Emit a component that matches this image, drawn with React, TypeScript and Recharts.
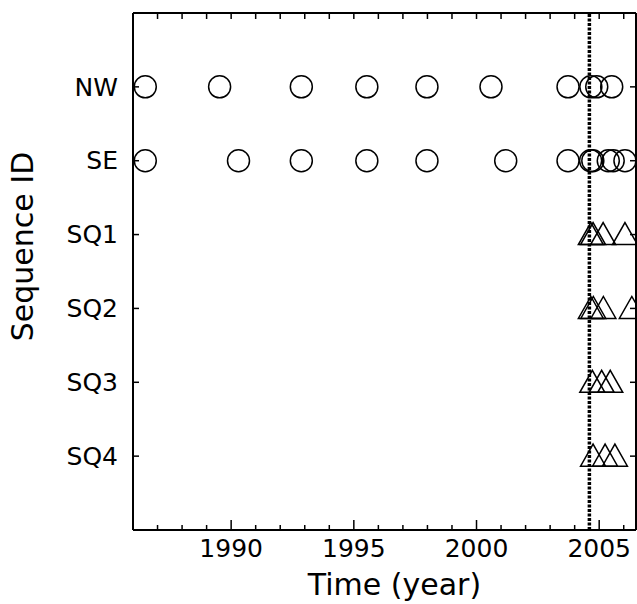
import { ReferenceLine, Scatter, ScatterChart, XAxis, YAxis, Label } from "recharts";

const sequenceIds = ["SQ4", "SQ3", "SQ2", "SQ1", "SE", "NW"];
const yearTicks = [
  1987, 1988, 1989, 1990, 1991, 1992, 1993, 1994, 1995, 1996, 1997, 1998, 1999,
  2000, 2001, 2002, 2003, 2004, 2005, 2006,
];
const labelledYears = [1990, 1995, 2000, 2005];
const cutoffYear = 2004.6;

const nwYears = [1986.5, 1989.53, 1992.86, 1995.53, 1997.98, 2000.59, 2003.73, 2004.66, 2004.9, 2005.51];
const seYears = [1986.5, 1990.3, 1992.86, 1995.53, 1997.98, 2001.19, 2003.73, 2004.65, 2004.74, 2005.37, 2005.57, 2006.05];
const sq1Years = [2004.66, 2004.75, 2005.16, 2006.05];
const sq2Years = [2004.66, 2004.76, 2005.17, 2006.33];
const sq3Years = [2004.72, 2005.1, 2005.45];
const sq4Years = [2004.75, 2005.24, 2005.64];

const FONT = "'DejaVu Sans', Verdana, sans-serif";

const toPoints = (years: number[], id: string) =>
  years.map((x) => ({ x, y: sequenceIds.indexOf(id) + 1 }));

const Circle = (props: any) => (
  <circle cx={props.cx} cy={props.cy} r={11} fill="none" stroke="#000" strokeWidth={1.5} />
);

const Triangle = (props: any) => {
  const { cx, cy } = props;
  const pts = `${cx - 12.5},${cy + 10} ${cx + 12.5},${cy + 10} ${cx},${cy - 12}`;
  return <polygon points={pts} fill="none" stroke="#000" strokeWidth={1.5} />;
};

// only here so the top and right frame axes get drawn
const Nothing = () => <g />;

const BottomTick = (props: any) => {
  const { x, y, payload } = props;
  const major = labelledYears.includes(payload.value);
  return (
    <g>
      <line x1={x} x2={x} y1={y} y2={y - (major ? 10 : 5)} stroke="#000" strokeWidth={1.5} />
      {major && (
        <text x={x} y={y + 27} textAnchor="middle" fontSize={25} fontFamily={FONT} fill="#000">
          {payload.value}
        </text>
      )}
    </g>
  );
};

const TopTick = (props: any) => {
  const { x, y } = props;
  return <line x1={x} x2={x} y1={y} y2={y + 6} stroke="#000" strokeWidth={1.5} />;
};

const LeftTick = (props: any) => {
  const { x, y, payload } = props;
  return (
    <g>
      <line x1={x} x2={x + 6} y1={y} y2={y} stroke="#000" strokeWidth={1.5} />
      <text x={x - 15} y={y} dy="0.35em" textAnchor="end" fontSize={25} fontFamily={FONT} fill="#000">
        {sequenceIds[payload.value - 1]}
      </text>
    </g>
  );
};

const RightTick = (props: any) => {
  const { x, y } = props;
  return <line x1={x} x2={x - 6} y1={y} y2={y} stroke="#000" strokeWidth={1.5} />;
};

const YTitle = (props: any) => {
  const { viewBox } = props;
  const cx = viewBox.x + 22;
  const cy = viewBox.y + viewBox.height / 2 - 25;
  return (
    <text
      x={cx}
      y={cy}
      transform={`rotate(-90 ${cx} ${cy})`}
      textAnchor="middle"
      dy="0.35em"
      fontSize={30}
      fontFamily={FONT}
      fill="#000"
    >
      Sequence ID
    </text>
  );
};

export default function App() {
  return (
    <div style={{ position: "absolute", left: 0, top: 0, background: "#fff" }}>
      <ScatterChart width={637} height={604} margin={{ top: 12, right: 0, bottom: 0, left: 0 }}>
        <XAxis
          xAxisId="bottom"
          dataKey="x"
          type="number"
          domain={[1986, 2006.5]}
          ticks={yearTicks}
          allowDataOverflow
          height={74}
          tickSize={0}
          tickMargin={0}
          tickLine={false}
          axisLine={{ stroke: "#000", strokeWidth: 2 }}
          tick={<BottomTick />}
          interval={0}
        >
          <Label
            value="Time (year)"
            position="insideBottom"
            offset={9}
            dx={10}
            fontSize={30}
            fontFamily={FONT}
            fill="#000"
          />
        </XAxis>
        <XAxis
          xAxisId="top"
          orientation="top"
          dataKey="x"
          type="number"
          domain={[1986, 2006.5]}
          ticks={yearTicks}
          allowDataOverflow
          height={1}
          tickSize={0}
          tickMargin={0}
          tickLine={false}
          axisLine={{ stroke: "#000", strokeWidth: 2 }}
          tick={<TopTick />}
          interval={0}
        />
        <YAxis
          yAxisId="left"
          dataKey="y"
          type="number"
          domain={[0, 7]}
          ticks={[1, 2, 3, 4, 5, 6]}
          width={133}
          tickSize={0}
          tickMargin={0}
          tickLine={false}
          axisLine={{ stroke: "#000", strokeWidth: 2 }}
          tick={<LeftTick />}
          interval={0}
        >
          <Label content={<YTitle />} />
        </YAxis>
        <YAxis
          yAxisId="right"
          orientation="right"
          dataKey="y"
          type="number"
          domain={[0, 7]}
          ticks={[1, 2, 3, 4, 5, 6]}
          width={1}
          tickSize={0}
          tickMargin={0}
          tickLine={false}
          axisLine={{ stroke: "#000", strokeWidth: 2 }}
          tick={<RightTick />}
          interval={0}
        />
        <ReferenceLine
          xAxisId="bottom"
          yAxisId="left"
          x={cutoffYear}
          stroke="#000"
          strokeWidth={3.5}
          strokeDasharray="3 1.5"
        />
        <Scatter xAxisId="top" yAxisId="right" data={toPoints(nwYears, "NW")} shape={Nothing} isAnimationActive={false} />
        <Scatter xAxisId="bottom" yAxisId="left" data={toPoints(nwYears, "NW")} shape={Circle} isAnimationActive={false} />
        <Scatter xAxisId="bottom" yAxisId="left" data={toPoints(seYears, "SE")} shape={Circle} isAnimationActive={false} />
        <Scatter xAxisId="bottom" yAxisId="left" data={toPoints(sq1Years, "SQ1")} shape={Triangle} isAnimationActive={false} />
        <Scatter xAxisId="bottom" yAxisId="left" data={toPoints(sq2Years, "SQ2")} shape={Triangle} isAnimationActive={false} />
        <Scatter xAxisId="bottom" yAxisId="left" data={toPoints(sq3Years, "SQ3")} shape={Triangle} isAnimationActive={false} />
        <Scatter xAxisId="bottom" yAxisId="left" data={toPoints(sq4Years, "SQ4")} shape={Triangle} isAnimationActive={false} />
      </ScatterChart>
    </div>
  );
}
